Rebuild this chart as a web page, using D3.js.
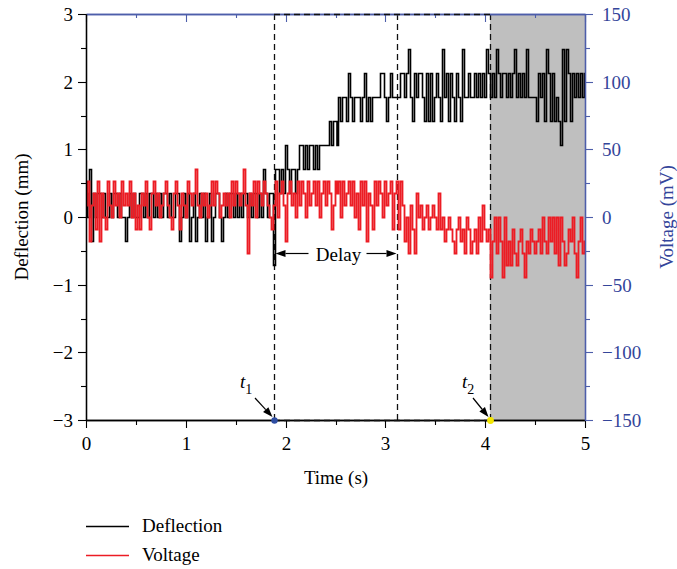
<!DOCTYPE html>
<html>
<head>
<meta charset="utf-8">
<script src="https://cdn.jsdelivr.net/npm/d3@7"></script>
<style>
  body { margin: 0; background: #fff; }
  svg { display: block; }
  text { font-family: "Liberation Serif", "Times New Roman", serif; }
</style>
</head>
<body>
<svg id="chart" width="677" height="569"></svg>
<script>
// Sampling interval of the recorded traces (s)
const sampleStep = 0.02;

// Beam deflection (mm), one value per sample
const deflectionMm = [
  0.36,0,0.71,-0.36,0.36,0,0.36,0.36,0,0.36,
  0,0,0.36,0,0.36,0.36,0,0.36,0,0,
  -0.36,0,0.36,0,0.36,0,0,0.36,0.36,0,
  0.36,0,0.36,0.36,0,0.36,0,0.36,0,0.36,
  0.36,0,0.36,0,0,0.36,0.36,-0.36,0,0.36,
  0,0.36,-0.36,0,0.36,-0.36,0,0.36,0,0.36,
  -0.36,0,0.36,-0.36,0,0.36,0.36,0,-0.36,0,
  0.36,0,0.36,0.36,0,0.36,0,0.36,0,0.36,
  0.36,0,0.36,0,0.36,0.36,0,0.36,0,0.71,
  0.36,0,0.36,0.36,-0.71,0.71,0.71,0.36,0.71,0.36,
  1.07,0.71,0.36,0.71,0.71,0.36,0.71,1.07,1.07,0.71,
  1.07,0.71,1.07,1.07,0.71,1.07,0.71,1.07,1.07,1.07,
  1.07,1.07,1.42,1.07,1.42,1.42,1.07,1.78,1.42,1.78,
  1.78,1.42,2.13,1.78,1.42,1.78,1.78,1.78,1.42,1.78,
  2.13,1.42,1.78,1.42,1.78,1.78,1.78,1.78,2.13,2.13,
  1.78,1.42,1.78,2.13,1.78,1.78,1.78,1.78,2.13,2.13,
  1.78,2.13,2.49,1.78,1.42,2.13,1.78,2.13,2.13,1.78,
  1.42,2.13,1.42,2.13,1.42,1.78,2.13,1.78,1.42,2.49,
  1.78,2.13,1.42,2.13,1.78,1.42,2.13,1.78,1.42,2.49,
  1.78,1.78,2.13,1.78,1.78,2.13,1.78,2.13,1.78,2.13,
  1.78,2.49,2.13,1.78,2.13,1.78,2.49,2.13,1.78,2.13,
  2.13,1.78,2.13,1.78,2.13,2.49,1.78,2.13,1.78,2.13,
  1.78,2.49,1.78,1.78,1.78,1.78,1.42,2.13,1.78,2.13,
  1.42,2.49,2.13,1.42,2.13,1.42,1.78,1.42,1.07,2.49,
  1.42,2.49,2.13,1.42,2.13,1.78,2.13,1.78,2.13,1.78,
  2.13
];

// Electrode voltage (mV), one value per sample
const voltageMv = [
  8.9,26.6,-17.7,8.9,17.7,-8.9,26.6,-17.7,17.7,0,
  -8.9,26.6,8.9,0,26.6,8.9,17.7,0,26.6,8.9,
  17.7,8.9,26.6,0,17.7,-8.9,8.9,-8.9,17.7,8.9,
  26.6,0,-8.9,17.7,26.6,8.9,17.7,0,8.9,17.7,
  26.6,8.9,0,-8.9,17.7,26.6,8.9,-8.9,17.7,8.9,
  0,26.6,17.7,8.9,17.7,35.5,8.9,0,17.7,8.9,
  17.7,0,8.9,26.6,8.9,26.6,17.7,0,8.9,17.7,
  8.9,17.7,0,26.6,8.9,26.6,17.7,8.9,17.7,35.5,
  8.9,-26.6,17.7,8.9,26.6,0,26.6,17.7,8.9,26.6,
  17.7,8.9,0,-8.9,8.9,26.6,0,17.7,26.6,8.9,
  -17.7,17.7,26.6,8.9,17.7,0,26.6,8.9,26.6,17.7,
  0,26.6,8.9,17.7,26.6,8.9,26.6,0,17.7,26.6,
  8.9,26.6,17.7,-8.9,8.9,26.6,17.7,26.6,0,26.6,
  8.9,17.7,26.6,8.9,26.6,0,17.7,-8.9,26.6,8.9,
  26.6,-17.7,17.7,8.9,-8.9,26.6,8.9,26.6,17.7,0,
  26.6,8.9,17.7,26.6,-8.9,17.7,26.6,-8.9,26.6,8.9,
  -17.7,0,-26.6,8.9,-8.9,-26.6,17.7,0,8.9,-8.9,
  0,8.9,-8.9,0,8.9,0,-8.9,17.7,-8.9,0,
  -17.7,-8.9,0,-8.9,-17.7,-26.6,-8.9,0,-17.7,-8.9,
  -26.6,0,-8.9,-26.6,-17.7,-8.9,-26.6,0,-17.7,8.9,
  -8.9,-17.7,-8.9,-44.4,-17.7,0,-26.6,0,-17.7,-44.4,
  0,-35.5,-17.7,-35.5,-8.9,-26.6,-35.5,-17.7,-8.9,-26.6,
  -44.4,-17.7,-26.6,-8.9,-17.7,-26.6,-17.7,-8.9,-26.6,0,
  -17.7,-26.6,0,-17.7,0,-26.6,0,-35.5,0,-17.7,
  -35.5,-26.6,-8.9,-17.7,0,-26.6,-44.4,-17.7,0,-26.6,
  -17.7
];

// Axis ticks
const timeTicks = [0, 1, 2, 3, 4, 5];
const timeMinorTicks = [0.5, 1.5, 2.5, 3.5, 4.5];
const deflectionTicks = [-3, -2, -1, 0, 1, 2, 3];
const deflectionMinorTicks = [-2.5, -1.5, -0.5, 0.5, 1.5, 2.5];
const voltageTicks = [-150, -100, -50, 0, 50, 100, 150];
const voltageMinorTicks = [-125, -75, -25, 25, 75, 125];

// Event times (s): stimulus onset t1, end of delay, response onset t2
const t1 = 1.88, delayEnd = 3.12, t2 = 4.05;
const timeEnd = 5;

const blue = "#34459a";
const blueLine = "#4d5eaa";
const red = "#ec1c24";
const fontSize = 19;

const svg = d3.select("#chart");
const M = { left: 86, right: 585, top: 14, bottom: 420 };

const x = d3.scaleLinear().domain([0, 5]).rangeRound([M.left, M.right]);
const yL = d3.scaleLinear().domain([-3, 3]).rangeRound([M.bottom, M.top]);
const yR = d3.scaleLinear().domain([-150, 150]).rangeRound([M.bottom, M.top]);

// Shaded response window
svg.append("rect")
  .attr("x", x(t2)).attr("y", yL(3))
  .attr("width", x(timeEnd) - x(t2)).attr("height", yL(-3) - yL(3))
  .attr("fill", "#bfbfbf");

// Dashed event markers
const dash = "6,4";
[t1, delayEnd, t2].forEach(t => {
  svg.append("line")
    .attr("x1", x(t) + 0.5).attr("x2", x(t) + 0.5)
    .attr("y1", yL(3)).attr("y2", yL(-3))
    .attr("stroke", "#111").attr("stroke-width", 1.3)
    .attr("stroke-dasharray", dash);
});

// Traces, on the pixel grid
const traces = svg.append("g").attr("transform", "translate(0.5,0.5)");
const deflectionLine = d3.line()
  .x((d, i) => x(i * sampleStep))
  .y(d => yL(d))
  .curve(d3.curveStep);
const voltageLine = d3.line()
  .x((d, i) => x(i * sampleStep))
  .y(d => yR(d))
  .curve(d3.curveStep);

traces.append("path").datum(deflectionMm)
  .attr("d", deflectionLine)
  .attr("fill", "none").attr("stroke", "#000").attr("stroke-width", 1.6);
traces.append("path").datum(voltageMv)
  .attr("d", voltageLine)
  .attr("fill", "none").attr("stroke", red).attr("stroke-width", 1.8);

// Axes
function styleAxis(g, color, lineColor) {
  g.selectAll("path.domain").attr("stroke", lineColor).attr("stroke-width", 1.3);
  g.selectAll(".tick line").attr("stroke", lineColor).attr("stroke-width", 1.1);
  g.selectAll(".tick text").attr("fill", color)
    .style("font-size", fontSize + "px")
    .style("font-family", '"Liberation Serif", serif');
  g.attr("font-family", null).attr("font-size", null);
}

// bottom
const gB = svg.append("g").attr("transform", `translate(0,${M.bottom})`)
  .call(d3.axisBottom(x).tickValues(timeTicks).tickSize(8).tickSizeOuter(0).tickPadding(9).tickFormat(d3.format("d")));
styleAxis(gB, "#000", "#000");
const gBm = svg.append("g").attr("transform", `translate(0,${M.bottom})`)
  .call(d3.axisBottom(x).tickValues(timeMinorTicks).tickSize(5).tickSizeOuter(0).tickFormat(""));
styleAxis(gBm, "#000", "#000");

// top (mirror, ticks inward)
const gT = svg.append("g").attr("transform", `translate(0,${M.top})`)
  .call(d3.axisTop(x).tickValues(timeTicks).tickSize(-8).tickSizeOuter(0).tickFormat(""));
styleAxis(gT, blue, blueLine);
const gTm = svg.append("g").attr("transform", `translate(0,${M.top})`)
  .call(d3.axisTop(x).tickValues(timeMinorTicks).tickSize(-4).tickSizeOuter(0).tickFormat(""));
styleAxis(gTm, blue, blueLine);

// left
const gL = svg.append("g").attr("transform", `translate(${M.left},0)`)
  .call(d3.axisLeft(yL).tickValues(deflectionTicks).tickSize(8).tickSizeOuter(0).tickPadding(5).tickFormat(d3.format("d")));
styleAxis(gL, "#000", "#000");
const gLm = svg.append("g").attr("transform", `translate(${M.left},0)`)
  .call(d3.axisLeft(yL).tickValues(deflectionMinorTicks).tickSize(5).tickSizeOuter(0).tickFormat(""));
styleAxis(gLm, "#000", "#000");

// right
const gR = svg.append("g").attr("transform", `translate(${M.right},0)`)
  .call(d3.axisRight(yR).tickValues(voltageTicks).tickSize(8).tickSizeOuter(0).tickPadding(9).tickFormat(d3.format("d")));
styleAxis(gR, blue, blueLine);
const gRm = svg.append("g").attr("transform", `translate(${M.right},0)`)
  .call(d3.axisRight(yR).tickValues(voltageMinorTicks).tickSize(5).tickSizeOuter(0).tickFormat(""));
styleAxis(gRm, blue, blueLine);

// Dashed frame edges between t1 and t2
[yL(3), yL(-3)].forEach(yy => {
  svg.append("line")
    .attr("x1", x(t1)).attr("x2", x(t2))
    .attr("y1", yy + 0.5).attr("y2", yy + 0.5)
    .attr("stroke", "#111").attr("stroke-width", 1.4)
    .attr("stroke-dasharray", dash);
});

// Event dots on the time axis
svg.append("circle").attr("cx", x(t1) + 0.5).attr("cy", yL(-3) + 0.5).attr("r", 3.2).attr("fill", "#2f4ea3");
svg.append("circle").attr("cx", x(t2) + 0.5).attr("cy", yL(-3) + 0.5).attr("r", 3.4).attr("fill", "#f3e600");

// Arrow helper
function arrow(x1, y1, x2, y2) {
  const a = Math.atan2(y2 - y1, x2 - x1);
  const L = 10, W = 3.6;
  const bx = x2 - L * Math.cos(a), by = y2 - L * Math.sin(a);
  svg.append("line").attr("x1", x1).attr("y1", y1).attr("x2", bx).attr("y2", by)
    .attr("stroke", "#000").attr("stroke-width", 1.2);
  svg.append("path")
    .attr("d", `M${x2},${y2}L${bx + W * Math.sin(a)},${by - W * Math.cos(a)}L${bx - W * Math.sin(a)},${by + W * Math.cos(a)}Z`)
    .attr("fill", "#000");
}

// Delay annotation
const delayY = 253.5;
const delayMid = (x(t1) + x(delayEnd)) / 2 + 3;
svg.append("text").attr("x", delayMid).attr("y", delayY + 7)
  .attr("text-anchor", "middle").style("font-size", fontSize + "px").text("Delay");
arrow(delayMid - 30, delayY, x(t1) + 1.5, delayY);
arrow(delayMid + 28, delayY, x(delayEnd) - 0.5, delayY);

// t1 / t2 labels
function timeLabel(tx, ty, sub) {
  const t = svg.append("text").attr("x", tx).attr("y", ty).style("font-size", fontSize + "px");
  t.append("tspan").attr("font-style", "italic").text("t");
  t.append("tspan").attr("dy", 6).style("font-size", "14px").text(sub);
}
timeLabel(x(t1) - 34, 388, "1");
arrow(x(t1) - 19, 398, x(t1) - 1.5, 417);
timeLabel(x(t2) - 28, 388, "2");
arrow(x(t2) - 17, 398, x(t2) - 1.5, 417);

// Axis titles
svg.append("text").attr("x", x(2.5)).attr("y", 484)
  .attr("text-anchor", "middle").style("font-size", fontSize + "px").text("Time (s)");
svg.append("text").attr("transform", `translate(28,${yL(0)}) rotate(-90)`)
  .attr("text-anchor", "middle").style("font-size", fontSize + "px").text("Deflection (mm)");
svg.append("text").attr("transform", `translate(673,${yL(0)}) rotate(-90)`)
  .attr("text-anchor", "middle").attr("fill", blue).style("font-size", fontSize + "px").text("Voltage (mV)");

// Legend
const legend = [
  { label: "Deflection", color: "#000", y: 526 },
  { label: "Voltage", color: red, y: 555 }
];
legend.forEach(d => {
  svg.append("line").attr("x1", 86).attr("x2", 129).attr("y1", d.y + 0.5).attr("y2", d.y + 0.5)
    .attr("stroke", d.color).attr("stroke-width", 1.4);
  svg.append("text").attr("x", 142).attr("y", d.y + 6)
    .style("font-size", fontSize + "px").text(d.label);
});
</script>
</body>
</html>
